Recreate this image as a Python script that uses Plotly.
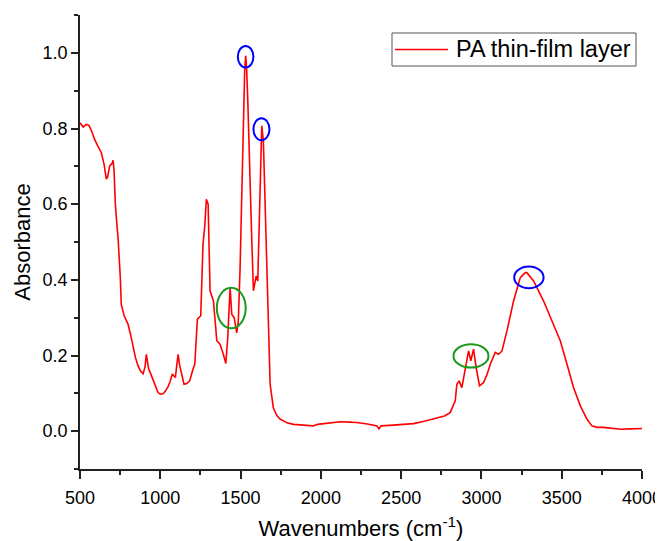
import plotly.graph_objects as go

wavenumber = [500, 520, 540, 556, 575, 591, 610, 633, 650, 664, 672, 685, 700, 706, 712, 720, 730, 737, 751, 757,
              775, 799, 815, 830, 845, 861, 878, 893, 905, 913, 920, 928, 940, 955, 970, 986, 1000, 1017, 1032, 1048,
              1062, 1075, 1085, 1094, 1103, 1111, 1120, 1131, 1148, 1165, 1183, 1204, 1215, 1231, 1252, 1266, 1277, 1287,
              1298, 1310, 1331, 1352, 1372, 1393, 1408, 1420, 1428, 1435, 1445, 1460, 1476, 1486, 1497, 1507, 1518,
              1526, 1532, 1538, 1545, 1559, 1570, 1580, 1590, 1597, 1607, 1615, 1622, 1632, 1642, 1653, 1663, 1673,
              1684, 1704, 1725, 1746, 1790, 1829, 1890, 1954, 1980, 2040, 2120, 2180, 2224, 2290, 2349, 2362, 2375,
              2450, 2577, 2650, 2722, 2770, 2805, 2826, 2837, 2847, 2861, 2878, 2899, 2920, 2934, 2951, 2967, 2988,
              3013, 3035, 3055, 3086, 3107, 3128, 3159, 3200, 3242, 3273, 3283, 3300, 3325, 3387, 3449, 3491, 3533,
              3574, 3616, 3657, 3688, 3720, 3761, 3810, 3865, 3930, 4000]
absorbance = [0.815, 0.804, 0.811, 0.808, 0.790, 0.771, 0.755, 0.736, 0.705, 0.666, 0.672, 0.701, 0.708, 0.716, 0.690,
              0.600, 0.545, 0.511, 0.406, 0.335, 0.305, 0.283, 0.255, 0.221, 0.195, 0.173, 0.158, 0.152, 0.170, 0.203,
              0.180, 0.164, 0.152, 0.137, 0.118, 0.102, 0.098, 0.099, 0.106, 0.117, 0.132, 0.151, 0.146, 0.142, 0.175,
              0.203, 0.175, 0.151, 0.124, 0.126, 0.133, 0.164, 0.177, 0.296, 0.305, 0.494, 0.542, 0.613, 0.600, 0.371,
              0.344, 0.239, 0.230, 0.203, 0.179, 0.247, 0.330, 0.379, 0.309, 0.300, 0.260, 0.291, 0.432, 0.608, 0.873,
              0.960, 0.992, 0.955, 0.873, 0.696, 0.503, 0.371, 0.400, 0.410, 0.397, 0.520, 0.696, 0.807, 0.767, 0.608,
              0.450, 0.274, 0.124, 0.062, 0.042, 0.032, 0.022, 0.018, 0.016, 0.014, 0.018, 0.021, 0.025, 0.024, 0.023,
              0.019, 0.014, 0.006, 0.014, 0.016, 0.020, 0.027, 0.034, 0.040, 0.049, 0.067, 0.080, 0.124, 0.133, 0.115,
              0.159, 0.212, 0.186, 0.217, 0.168, 0.120, 0.128, 0.150, 0.177, 0.208, 0.203, 0.212, 0.265, 0.344, 0.406,
              0.419, 0.419, 0.410, 0.397, 0.344, 0.283, 0.239, 0.177, 0.115, 0.067, 0.032, 0.014, 0.010, 0.010, 0.007,
              0.005, 0.006, 0.007]

series_name = "PA thin-film layer"

# highlighted peaks: (x0, x1, y0, y1) in data units
blue_marks = [(1483, 1580, 0.961, 1.018), (1580, 1680, 0.769, 0.827), (3204, 3387, 0.378, 0.435)]
green_marks = [(1352, 1532, 0.272, 0.379), (2826, 3044, 0.168, 0.230)]

OFF = 8  # page body margin
W, H = 655, 533
L, R, T, B = 72, 21, 7, 72
pw, ph = W - L - R, H - T - B


def px(x):
    return (x - OFF - L) / pw


def py(y):
    return (H - B - (y - OFF)) / ph


fig = go.Figure()
fig.add_trace(go.Scatter(x=wavenumber, y=absorbance, mode="lines", name=series_name,
                         line=dict(color="#ff0000", width=1.6), showlegend=False))

for x0, x1, y0, y1 in blue_marks:
    fig.add_shape(type="circle", xref="x", yref="y", x0=x0, x1=x1, y0=y0, y1=y1,
                  line=dict(color="#0000ff", width=2))
for x0, x1, y0, y1 in green_marks:
    fig.add_shape(type="circle", xref="x", yref="y", x0=x0, x1=x1, y0=y0, y1=y1,
                  line=dict(color="#1a9a1a", width=2))

# legend box drawn by hand to match the compact original
fig.add_shape(type="rect", xref="paper", yref="paper", x0=px(392), x1=px(636), y0=py(66), y1=py(33),
              line=dict(color="#555555", width=1), fillcolor="white")
fig.add_shape(type="line", xref="paper", yref="paper", x0=px(395), x1=px(448), y0=py(49.5), y1=py(49.5),
              line=dict(color="#ff0000", width=1.6))
fig.add_annotation(xref="paper", yref="paper", x=px(454), y=py(49.5), xanchor="left", yanchor="middle",
                   text=series_name, showarrow=False, font=dict(size=23.5, color="black"))

axis_color = "#222222"
fig.update_layout(
    width=W, height=H,
    margin=dict(l=L, r=R, t=T, b=B),
    paper_bgcolor="white", plot_bgcolor="white",
    font=dict(family="Liberation Sans, Arial, sans-serif", color="black", size=18),
    showlegend=False,
    xaxis=dict(range=[500, 4000], tick0=500, dtick=500, ticks="outside", ticklen=8, tickwidth=1.5,
               tickcolor=axis_color, showline=True, linecolor=axis_color, linewidth=1.5,
               showgrid=False, zeroline=False, tickfont=dict(size=18), automargin=False,
               ticklabelstandoff=4,
               minor=dict(dtick=250, tick0=500, ticks="outside", ticklen=4, tickcolor=axis_color),
               title=dict(text="Wavenumbers (cm<sup>-1</sup>)", font=dict(size=22), standoff=13)),
    yaxis=dict(range=[-0.1, 1.1], tick0=0, dtick=0.2, tickformat=".1f", ticks="outside", ticklen=7,
               tickwidth=1.5, tickcolor=axis_color, showline=True, linecolor=axis_color, linewidth=1.5,
               showgrid=False, zeroline=False, tickfont=dict(size=18), automargin=False,
               minor=dict(dtick=0.1, tick0=0, ticks="outside", ticklen=4, tickcolor=axis_color),
               title=dict(text="Absorbance", font=dict(size=22), standoff=6)),
)

fig.write_html("out.html")
